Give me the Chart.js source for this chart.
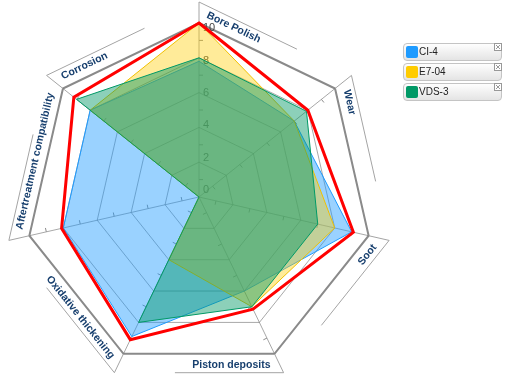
<!DOCTYPE html>
<html>
<head>
<meta charset="utf-8">
<script src="https://cdn.jsdelivr.net/npm/chart.js@4.4.0/dist/chart.umd.min.js"></script>
<style>
  body { margin: 0; background: #fff; font-family: Arial, "Liberation Sans", sans-serif; }
  #wrap { position: relative; width: 506px; height: 383px; }
  .leg { position: absolute; left: 403px; width: 97px; height: 16px; border: 1px solid #c4c4c4; border-radius: 4px;
         background: linear-gradient(#fefefe, #e4e4e4); font-size: 10px; color: #222; line-height: 16px; }
  .leg i { position: absolute; left: 2px; top: 2px; width: 12px; height: 12px; border-radius: 2px; }
  .leg span { position: absolute; left: 15px; }
  .leg svg { position: absolute; right: -1px; top: -1px; }
</style>
</head>
<body>
<div id="wrap">
  <canvas id="radar" width="506" height="383"></canvas>
  <div id="legend"></div>
</div>
<script>
// categories and values
const labels = ["Bore Polish", "Wear", "Soot", "Piston deposits", "Oxidative thickening", "Aftertreatment compatibility", "Corrosion"];
const limite = [10, 8, 9.1, 7.15, 9.1, 8.1, 9.2];
const ci4 = [7.8, 7, 9, 6, 8.9, 8, 8];
const e704 = [10, 7, 8, 7, 4, 0, 8];
const vds3 = [8, 7.9, 7, 7, 8, 0, 9];
const tickVals = [0, 2, 4, 6, 8, 10];
const minorVals = [1, 3, 5, 7, 9];

const series = [
  { name: "CI-4", color: "#1e9bff" },
  { name: "E7-04", color: "#ffcc00" },
  { name: "VDS-3", color: "#009966" }
];

// legend html
const leg = document.getElementById("legend");
series.forEach((s, i) => {
  const d = document.createElement("div");
  d.className = "leg";
  d.style.top = (43 + i * 20) + "px";
  d.innerHTML = '<i style="background:' + s.color + '"></i><span>' + s.name + '</span>' +
    '<svg width="8" height="8"><rect x="0.5" y="0.5" width="7" height="7" fill="#fff" stroke="#999"/>' +
    '<path d="M2 2L6 6M6 2L2 6" stroke="#999"/></svg>';
  leg.appendChild(d);
});

// strips, axis labels, tick labels
const tiras = {
  id: "tiras",
  beforeDatasetsDraw(chart) {
    const s = chart.scales.r;
    const ctx = chart.ctx;
    const R = s.getDistanceFromCenterForValue(10);
    const n = labels.length;
    ctx.save();

    // little marks on the axes
    ctx.strokeStyle = "#8c8c8c";
    ctx.lineWidth = 1;
    for (let i = 0; i < n; i++) {
      minorVals.forEach(v => {
        const p = s.getPointPosition(i, s.getDistanceFromCenterForValue(v));
        let rx = p.x - s.xCenter, ry = p.y - s.yCenter;
        const l = Math.hypot(rx, ry); rx /= l; ry /= l;
        ctx.beginPath();
        ctx.moveTo(p.x, p.y);
        ctx.lineTo(p.x - ry * 4, p.y + rx * 4);
        ctx.stroke();
      });
    }

    for (let i = 0; i < n; i++) {
      const v = s.getPointPosition(i, R);
      const e = s.getPointPosition(i, R + 21);
      const w = s.getPointPosition((i + 1) % n, R);
      let dx = w.x - v.x, dy = w.y - v.y;
      const len = Math.hypot(dx, dy); dx /= len; dy /= len;
      let nx = dy, ny = -dx;
      if ((v.x - s.xCenter) * nx + (v.y - s.yCenter) * ny < 0) { nx = -nx; ny = -ny; }

      ctx.strokeStyle = "#a4a4a4";
      ctx.lineWidth = 1;
      ctx.beginPath();
      ctx.moveTo(v.x, v.y);
      ctx.lineTo(e.x, e.y);
      ctx.lineTo(e.x + dx * len * 0.72, e.y + dy * len * 0.72);
      ctx.stroke();

      const ang = Math.atan2(dy, dx);
      const flip = Math.abs(ang) > Math.PI / 2 + 0.01;
      ctx.save();
      ctx.translate(v.x + dx * 4 + nx * 11, v.y + dy * 4 + ny * 11);
      ctx.rotate(flip ? ang + Math.PI : ang);
      ctx.textAlign = flip ? "right" : "left";
      ctx.textBaseline = "middle";
      ctx.font = 'bold 10.5px Arial, "Liberation Sans", sans-serif';
      ctx.fillStyle = "#173f6e";
      ctx.fillText(labels[i], 0, 0);
      ctx.restore();
    }

    ctx.font = '11px Arial, "Liberation Sans", sans-serif';
    ctx.fillStyle = "#444";
    ctx.textAlign = "left";
    ctx.textBaseline = "middle";
    tickVals.forEach(t => {
      const d = s.getDistanceFromCenterForValue(t);
      ctx.fillText(String(t), s.xCenter + 4, s.yCenter - d * 0.93 - 7);
    });
    ctx.restore();
  }
};

const ctx = document.getElementById("radar").getContext("2d");
new Chart(ctx, {
  type: "radar",
  data: {
    labels: labels,
    datasets: [
      { label: "Limite", data: limite, borderColor: "#ff0000", borderWidth: 3, fill: false, pointRadius: 0, order: 0 },
      { label: "VDS-3", data: vds3, borderColor: "#009966", backgroundColor: "rgba(0,150,100,0.45)", borderWidth: 1, fill: true, pointRadius: 0, order: 1 },
      { label: "E7-04", data: e704, borderColor: "#f0c000", backgroundColor: "rgba(255,204,0,0.4)", borderWidth: 1, fill: true, pointRadius: 0, order: 2 },
      { label: "CI-4", data: ci4, borderColor: "#1e9bff", backgroundColor: "rgba(30,155,255,0.45)", borderWidth: 1, fill: true, pointRadius: 0, order: 3 }
    ]
  },
  options: {
    responsive: false,
    animation: false,
    layout: { padding: { left: 25, right: 133, top: 23, bottom: 12 } },
    plugins: { legend: { display: false }, tooltip: { enabled: false } },
    elements: { line: { tension: 0 } },
    scales: {
      r: {
        min: 0,
        max: 10,
        ticks: { display: false, stepSize: 2 },
        pointLabels: { display: false },
        grid: {
          color: c => c.tick.value === 10 ? "#8a8a8a" : "rgba(110,110,110,0.6)",
          lineWidth: c => c.tick.value === 10 ? 2 : 1
        },
        angleLines: { color: "rgba(110,110,110,0.6)" }
      }
    }
  },
  plugins: [tiras]
});
</script>
</body>
</html>
